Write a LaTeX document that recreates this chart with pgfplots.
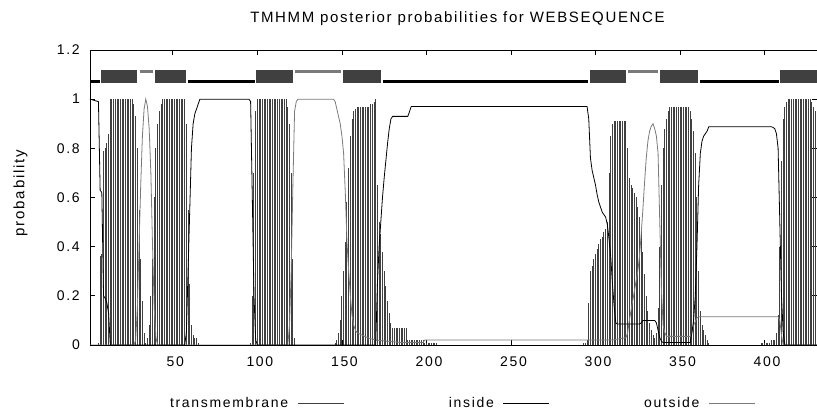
\documentclass[border=0pt]{standalone}
\usepackage{fontspec}
\setmainfont{Liberation Sans}[LetterSpace=12]
\newfontfamily\titlefont{Liberation Sans}[LetterSpace=11]
\usepackage{pgfplots}
\pgfplotsset{compat=1.18}

\definecolor{tmbar}{HTML}{404040}
\definecolor{tmbox}{HTML}{404040}
\definecolor{outgray}{HTML}{7A7A7A}

\begin{document}
\begin{tikzpicture}
\begin{axis}[
    scale only axis,
    width=727pt, height=295pt,
    xmin=1, xmax=431,
    ymin=0, ymax=1.2,
    xtick={50,100,150,200,250,300,350,400},
    ytick={0,0.2,0.4,0.6,0.8,1,1.2},
    tick align=inside,
    major tick length=5pt,
    axis line style={line width=0.8pt},
    tick style={line width=0.8pt, black},
    /pgf/number format/assume math mode=true,
    tick label style={font=\fontsize{14}{16}\selectfont},
    xticklabel style={anchor=north, inner sep=0pt, yshift=-12pt, xshift=2.5pt},
    yticklabel style={anchor=east, inner sep=0pt, xshift=-10pt},
    title={TMHMM posterior probabilities for WEBSEQUENCE},
    title style={font=\titlefont\fontsize{15}{17}\selectfont,
                 at={(axis description cs:0.5055,1)}, anchor=base, yshift=21pt},
    ylabel={probability},
    ylabel style={font=\fontsize{15}{17}\selectfont, rotate=0,
                  at={(axis description cs:-0.0956,0.515)}, anchor=center},
    unbounded coords=jump,
    legend plot pos=right,
    legend image code/.code={\draw[#1] (0pt,0pt) -- (46pt,0pt);},
    legend style={draw=none, fill=none, inner sep=0pt,
                  at={(axis description cs:0.0908,-0.198)}, anchor=west,
                  font=\fontsize{14}{16}\selectfont,
                  /tikz/every odd column/.append style={column sep=7pt},
                  /tikz/every even column/.append style={column sep=17.8pt}},
    legend columns=3,
]

% transmembrane posterior, one impulse per residue
\addplot[ycomb, draw=tmbar, line width=1pt, forget plot] coordinates {
(6,0.01)(7,0.36)(8,0.37)(9,0.79)(10,0.80)(11,0.82)(12,0.86)(13,1)(14,1)(15,1)(16,1)(17,1)(18,1)(19,1)(20,1)(21,1)(22,1)(23,1)(24,1)(25,1)(26,1)(27,0.98)(28,0.93)(29,0.80)(30,0.55)(31,0.35)(32,0.18)(33,0.05)(34,0.01)
(35,0.03)(36,0.08)(37,0.20)(38,0.35)(39,0.60)(40,0.80)(41,0.90)(42,0.95)(43,0.98)(44,1)(45,1)(46,1)(47,1)(48,1)(49,1)(50,1)(51,1)(52,1)(53,1)(54,1)(55,1)(56,1)(57,1)(58,0.90)(59,0.55)(60,0.25)(61,0.08)(62,0.04)(63,0.03)(64,0.03)(65,0.01)
(96,0.01)(97,0.20)(98,0.70)(99,0.95)(100,1)(101,1)(102,1)(103,1)(104,1)(105,1)(106,1)(107,1)(108,1)(109,1)(110,1)(111,1)(112,1)(113,1)(114,1)(115,1)(116,1)(117,1)(118,0.97)(119,0.90)(120,0.70)(121,0.35)(122,0.03)
(146,0.01)(147,0.02)(148,0.05)(149,0.10)(150,0.20)(151,0.30)(152,0.42)(153,0.58)(154,0.72)(155,0.85)(156,0.92)(157,0.95)(158,0.96)(159,0.97)(160,0.97)(161,0.97)(162,0.97)(163,0.97)(164,0.97)(165,0.97)(166,0.97)(167,0.98)(168,0.98)(169,0.99)(170,1)(171,0.65)(172,0.50)(173,0.45)(174,0.38)(175,0.30)(176,0.24)(177,0.18)(178,0.13)(179,0.09)
(180,0.07)(181,0.07)(182,0.07)(183,0.07)(184,0.07)(185,0.07)(186,0.07)(187,0.07)(188,0.07)(189,0.02)(190,0.02)(191,0.02)(192,0.02)(193,0.02)(194,0.02)(195,0.02)(196,0.02)(197,0.02)(198,0.02)(199,0.01)(200,0.01)(201,0.01)(202,0.01)(203,0.01)(204,0.01)(205,0.01)(206,0.01)
(293,0.01)(294,0.01)(295,0.02)(296,0.17)(297,0.30)(298,0.32)(299,0.35)(300,0.37)(301,0.39)(302,0.41)(303,0.43)(304,0.44)(305,0.46)(306,0.47)(307,0.50)(308,0.70)(309,0.85)(310,0.90)(311,0.91)(312,0.91)(313,0.91)(314,0.91)(315,0.91)(316,0.91)(317,0.91)(318,0.91)(319,0.80)(320,0.68)(321,0.65)(322,0.64)(323,0.62)(324,0.60)(325,0.56)(326,0.52)(327,0.46)(328,0.38)(329,0.29)(330,0.20)(331,0.14)(332,0.09)(333,0.06)(334,0.04)(335,0.03)(336,0.05)(337,0.15)
(338,0.40)(339,0.65)(340,0.80)(341,0.88)(342,0.92)(343,0.95)(344,0.97)(345,0.97)(346,0.97)(347,0.97)(348,0.97)(349,0.97)(350,0.97)(351,0.97)(352,0.97)(353,0.97)(354,0.97)(355,0.97)(356,0.95)(357,0.92)(358,0.87)(359,0.78)(360,0.60)(361,0.30)(362,0.14)(363,0.08)(364,0.06)(365,0.04)(366,0.02)(367,0.01)
(398,0.01)(399,0.01)(400,0.01)(401,0.01)(402,0.01)(403,0.01)(404,0.02)(405,0.02)(406,0.02)(407,0.05)(408,0.12)(409,0.40)(410,0.75)(411,0.92)(412,0.97)(413,0.99)(414,1)(415,1)(416,1)(417,1)(418,1)(419,1)(420,1)(421,1)(422,1)(423,1)(424,1)(425,1)(426,1)(427,1)(428,0.99)(429,0.97)(430,0.95)(431,0.93)
};

% outside posterior
\addplot[outgray, line width=0.8pt, forget plot] coordinates {
(1,0)(27,0)(28,0.02)(29,0.15)(30,0.40)(31,0.65)(32,0.85)(33,0.96)(34,1)(35,0.97)(36,0.88)(37,0.70)(38,0.40)(39,0.15)(40,0.03)(41,0)
(118,0)(119,0.08)(120,0.30)(121,0.65)(122,0.95)(123,0.99)(124,1)(145,1)(146,0.99)(147,0.96)(148,0.93)(149,0.90)(150,0.85)(151,0.78)(152,0.62)(153,0.42)(154,0.30)(155,0.20)(156,0.12)(157,0.08)(158,0.06)(159,0.05)(162,0.04)(165,0.03)(170,0.02)(185,0.01)(198,0.01)(199,0.02)
(310,0.02)(318,0.03)(319,0.05)(320,0.10)(321,0.14)(322,0.18)(323,0.22)(324,0.26)(325,0.30)(326,0.36)(327,0.45)(328,0.55)(329,0.66)(330,0.76)(331,0.83)(332,0.87)(333,0.89)(334,0.90)(335,0.88)(336,0.85)(337,0.78)(338,0.50)(339,0.22)(340,0.08)(341,0.05)(342,0.035)
(356,0.035)(357,0.05)(358,0.08)(360,0.11)(361,0.115)(408,0.115)(409,0.10)(410,0.04)(411,0)(431,0)
};

% inside posterior
\addplot[black, line width=0.8pt, forget plot] coordinates {
(1,1)(6,0.99)(7,0.63)(8,0.62)(9,0.20)(10,0.19)(11,0.17)(12,0.13)(13,0)(57,0)(58,0.05)(59,0.30)(60,0.55)(61,0.80)(62,0.90)(63,0.94)(64,0.96)(65,0.98)(66,1)
(95,1)(96,0.99)(97,0.60)(98,0.20)(99,0.02)(100,0)(170,0)(171,0.25)(172,0.40)(173,0.50)(174,0.60)(175,0.68)(176,0.75)(177,0.82)(178,0.88)(179,0.92)(180,0.93)(189,0.93)(190,0.95)(191,0.97)
(295,0.97)(296,0.92)(297,0.76)(298,0.71)(299,0.68)(300,0.65)(301,0.61)(302,0.58)(303,0.56)(304,0.54)(305,0.53)(306,0.52)(307,0.49)(308,0.43)(309,0.36)(310,0.25)(311,0.16)(312,0.09)(313,0.085)(326,0.085)(327,0.09)(328,0.10)(335,0.10)(336,0.09)(337,0.06)(338,0.03)(339,0.015)(340,0.01)
(356,0.01)(357,0.05)(358,0.10)(359,0.20)(360,0.40)(361,0.65)(362,0.78)(363,0.83)(364,0.85)(365,0.86)(366,0.87)(367,0.888)(404,0.888)(405,0.885)(406,0.88)(407,0.86)(408,0.80)(409,0.50)(410,0.20)(411,0.05)(412,0)(431,0)
};

% predicted topology track above the curves
\addplot[black, line width=3pt, forget plot] coordinates {
(1,1.07)(7,1.07) (7,nan) (59.2,1.07)(98.6,1.07) (98.6,nan) (174.5,1.07)(295.6,1.07) (295.6,nan) (361.6,1.07)(408.3,1.07)
};
\addplot[outgray, line width=2.5pt, forget plot] coordinates {
(30.3,1.113)(38.2,1.113) (38.2,nan) (122.1,1.113)(149.3,1.113) (149.3,nan) (319.3,1.113)(337,1.113)
};
\addplot[tmbox, line width=12.8pt, forget plot] coordinates {
(7.6,1.093)(29,1.093) (29,nan) (39.5,1.093)(58,1.093) (58,nan) (99.2,1.093)(120.9,1.093) (120.9,nan)
(150.8,1.093)(173.1,1.093) (173.1,nan) (296.6,1.093)(318.3,1.093) (318.3,nan) (338.4,1.093)(360.6,1.093) (360.6,nan) (408.9,1.093)(431,1.093)
};

\addlegendimage{tmbar, line width=0.8pt}
\addlegendentry{\makebox[130pt][r]{transmembrane}}
\addlegendimage{black, line width=0.8pt}
\addlegendentry{\makebox[130pt][r]{inside}}
\addlegendimage{outgray, line width=0.8pt}
\addlegendentry{\makebox[130pt][r]{outside}}
\end{axis}
\pgfresetboundingbox
\path (-90pt,-66pt) rectangle (727pt,345pt);
\end{tikzpicture}
\end{document}
